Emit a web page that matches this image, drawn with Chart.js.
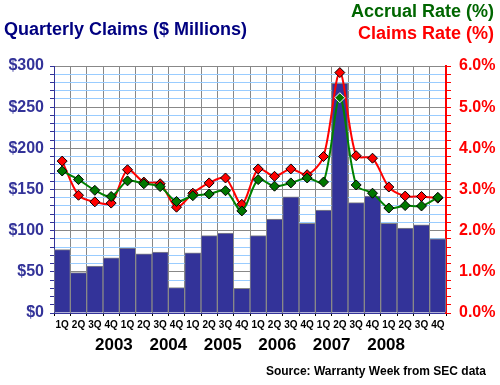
<!DOCTYPE html>
<html>
<head>
<meta charset="utf-8">
<script src="https://cdn.jsdelivr.net/npm/chart.js@4/dist/chart.umd.min.js"></script>
<style>
  body { margin: 0; background: #fff; }
  #wrap { position: relative; width: 500px; height: 385px; font-family: Arial, "Liberation Sans", sans-serif; font-weight: bold; }
  #wrap div.t { position: absolute; white-space: nowrap; }
  #title { left: 4px; top: 19px; font-size: 18px; color: #000080; }
  #accrual { right: 6px; top: 1px; font-size: 18px; color: #006600; }
  #claimsT { right: 6px; top: 23px; font-size: 18px; color: #ff0000; }
  #source { right: 14px; top: 364px; font-size: 12px; color: #000; }
</style>
</head>
<body>
<div id="wrap">
  <canvas id="chart" width="500" height="385"></canvas>
  <div class="t" id="title">Quarterly Claims ($ Millions)</div>
  <div class="t" id="accrual">Accrual Rate (%)</div>
  <div class="t" id="claimsT">Claims Rate (%)</div>
  <div class="t" id="source">Source: Warranty Week from SEC data</div>
</div>
<script>
let quarters = ["1Q","2Q","3Q","4Q","1Q","2Q","3Q","4Q","1Q","2Q","3Q","4Q",
                "1Q","2Q","3Q","4Q","1Q","2Q","3Q","4Q","1Q","2Q","3Q","4Q"];
let years = ["2003", "2004", "2005", "2006", "2007", "2008"];
// $ millions
let claims = [77, 49, 57, 67, 79, 72, 74, 31, 73, 94, 97, 30,
              94, 114, 141, 109, 125, 279, 134, 142, 109, 103, 107, 90];
// percent
let claimsRate = [3.69, 2.86, 2.70, 2.67, 3.48, 3.18, 3.14, 2.57, 2.91, 3.16, 3.28, 2.64,
                  3.50, 3.32, 3.50, 3.36, 3.80, 5.84, 3.82, 3.76, 3.06, 2.84, 2.83, 2.79];
let accrualRate = [3.45, 3.24, 2.98, 2.83, 3.21, 3.14, 3.07, 2.71, 2.85, 2.89, 2.97, 2.48,
                   3.24, 3.08, 3.16, 3.28, 3.18, 5.23, 3.11, 2.91, 2.55, 2.61, 2.60, 2.81];

const font = "Arial, 'Liberation Sans', sans-serif";

// green diamond sitting on the tall bar gets a white outline
let accrualBorders = accrualRate.map((v, i) => claims[i] / 50 > v ? "#ffffff" : "#000000");

const cfg = {
    type: "bar",
    data: {
        labels: quarters,
        datasets: [
            {
                label: "Accrual Rate",
                type: "line",
                data: accrualRate,
                yAxisID: "y1",
                borderColor: "#008000",
                borderWidth: 2,
                tension: 0.3,
                pointStyle: "rectRot",
                pointRadius: 5,
                pointBackgroundColor: "#007700",
                pointBorderColor: accrualBorders,
                pointBorderWidth: 1,
                order: 1
            },
            {
                label: "Claims Rate",
                type: "line",
                data: claimsRate,
                yAxisID: "y1",
                borderColor: "#ff0000",
                borderWidth: 2,
                tension: 0.3,
                pointStyle: "rectRot",
                pointRadius: 5,
                pointBackgroundColor: "#ff0000",
                pointBorderColor: "#000000",
                pointBorderWidth: 1,
                order: 2
            },
            {
                label: "Quarterly Claims",
                data: claims,
                yAxisID: "y",
                backgroundColor: "#333399",
                borderColor: "#888888",
                borderWidth: 1,
                barPercentage: 1,
                categoryPercentage: 1,
                order: 3
            }
        ]
    },
    options: {
        responsive: false,
        animation: false,
        layout: { padding: { top: 66, bottom: 30, left: 0, right: 0 } },
        plugins: { legend: { display: false }, tooltip: { enabled: false } },
        scales: {
            x: {
                offset: true,
                grid: { color: "#888888", offset: true, tickLength: 3, tickColor: "#000" },
                border: { color: "#333399" },
                ticks: {
                    color: "#000",
                    font: { family: font, size: 10, weight: "bold" },
                    padding: 3,
                    maxRotation: 0,
                    autoSkip: false
                },
                afterFit: (a) => { a.height = 20; }
            },
            x2: {
                type: "linear",
                position: "bottom",
                min: -0.5,
                max: 23.5,
                grid: { display: false, drawTicks: false },
                border: { display: false },
                afterBuildTicks: (a) => { a.ticks = years.map((y, i) => ({ value: i * 4 + 1.5 })); },
                ticks: {
                    color: "#000",
                    font: { family: font, size: 17, weight: "bold" },
                    padding: 2,
                    autoSkip: false,
                    maxRotation: 0,
                    callback: (v) => years[Math.round((v - 1.5) / 4)]
                },
                afterFit: (a) => { a.height = 22; }
            },
            y: {
                position: "left",
                min: 0,
                max: 300,
                ticks: {
                    stepSize: 10,
                    color: "#333399",
                    font: { family: font, size: 16, weight: "bold" },
                    padding: 6,
                    autoSkip: false,
                    callback: (v) => v % 50 === 0 ? "$" + v : ""
                },
                grid: {
                    color: (c) => c.tick && c.tick.value % 50 === 0 ? "#888888" : "#99ccff",
                    tickColor: "#333399",
                    tickLength: 4
                },
                border: { color: "#333399", width: 1 },
                afterFit: (a) => { a.width = 54; }
            },
            y1: {
                position: "right",
                min: 0,
                max: 6,
                ticks: {
                    stepSize: 0.2,
                    color: "#ff0000",
                    font: { family: font, size: 16, weight: "bold" },
                    padding: 8,
                    autoSkip: false,
                    callback: (v) => Math.abs(v - Math.round(v)) < 1e-6 ? Math.round(v).toFixed(1) + "%" : ""
                },
                grid: { drawOnChartArea: false, tickColor: "#ff0000", tickLength: 5 },
                border: { color: "#ff0000", width: 2 },
                afterFit: (a) => { a.width = 54; }
            }
        }
    }
};

new Chart(document.getElementById("chart"), cfg);
</script>
</body>
</html>
